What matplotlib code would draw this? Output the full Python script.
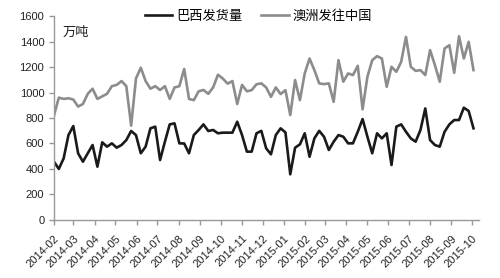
import pandas as pd
import numpy as np
import matplotlib
matplotlib.use("Agg")
import matplotlib.pyplot as plt
import matplotlib.dates as mdates

plt.rcParams['font.family'] = ['Liberation Sans', 'Noto Sans CJK SC', 'DejaVu Sans']

# weekly shipments, 10k tonnes
brazil = [457, 400, 483, 666, 737, 523, 457, 523, 588, 418, 609, 575, 601, 567, 588, 627, 698, 666,
          523, 575, 719, 732, 470, 614, 750, 758, 601, 600, 523, 666, 706, 750, 698, 706, 680, 685,
          685, 685, 771, 666, 536, 536, 680, 699, 562, 515, 666, 719, 687, 358, 567, 593, 680,
          496, 640, 699, 653, 549, 614, 666, 653, 601, 601, 692, 792, 653, 523, 680, 640, 680, 431,
          732, 750, 692, 640, 614, 706, 875, 627, 588, 575, 692, 750, 784, 784, 881, 855, 719]
australia = [820, 960, 950, 955, 945, 890, 910, 990, 1030, 950, 970, 990, 1050, 1060, 1090, 1050, 740,
             1110, 1195, 1090, 1030, 1050, 1020, 1050, 950, 1040, 1050, 1185, 950, 940, 1010, 1020, 990,
             1040, 1140, 1110, 1070, 1090, 910, 1060, 1010,
             1019, 1065, 1072, 1040, 966, 1040, 988, 1019, 823, 1098, 940, 1150, 1267, 1176, 1072, 1066,
             1072, 927, 1254, 1085, 1150, 1137, 1210, 868, 1124, 1254, 1286, 1267, 1045, 1202, 1163, 1241,
             1437, 1202, 1170, 1176, 1137, 1333, 1215, 1085, 1346, 1372, 1155, 1442, 1267, 1398, 1176]
weeks = pd.date_range('2014-02-01', periods=len(brazil), freq='7D')
month_ticks = pd.date_range('2014-02-01', '2015-10-01', freq='MS')
series_names = ['巴西发货量', '澳洲发往中国']

fig = plt.figure(figsize=(5, 2.78), dpi=100)
ax = fig.add_axes([0.108, 0.209, 0.85, 0.733])

ax.plot(weeks, brazil, color='#1a1a1a', lw=1.9, label=series_names[0])
ax.plot(weeks, australia, color='#8c8c8c', lw=1.9, label=series_names[1])

ax.set_ylim(0, 1600)
ax.set_yticks(range(0, 1601, 200))
ax.set_xlim(pd.Timestamp('2014-02-01'), pd.Timestamp('2015-10-11'))
ax.set_xticks(month_ticks)
ax.xaxis.set_major_formatter(mdates.DateFormatter('%Y-%m'))
plt.setp(ax.get_xticklabels(), rotation=45, ha='right', rotation_mode='anchor')

for s in ['top', 'right']:
    ax.spines[s].set_visible(False)
for s in ['left', 'bottom']:
    ax.spines[s].set_color('#999999')
    ax.spines[s].set_linewidth(1.0)
ax.tick_params(axis='both', colors='#999999', labelcolor='#222222', labelsize=8, length=3.5, width=1.0)
ax.tick_params(axis='x', pad=6)

ax.text(0.02, 0.92, '万吨', transform=ax.transAxes, fontsize=9.5,
        family=['Noto Sans CJK SC'], color='#222222', va='center')

fig.legend(loc='center', bbox_to_anchor=(0.517, 0.942), ncol=2, frameon=False,
           prop={'family': 'Noto Sans CJK SC', 'size': 9.5}, handlelength=2.1,
           handletextpad=0.3, columnspacing=1.4)

plt.savefig('out.png')
